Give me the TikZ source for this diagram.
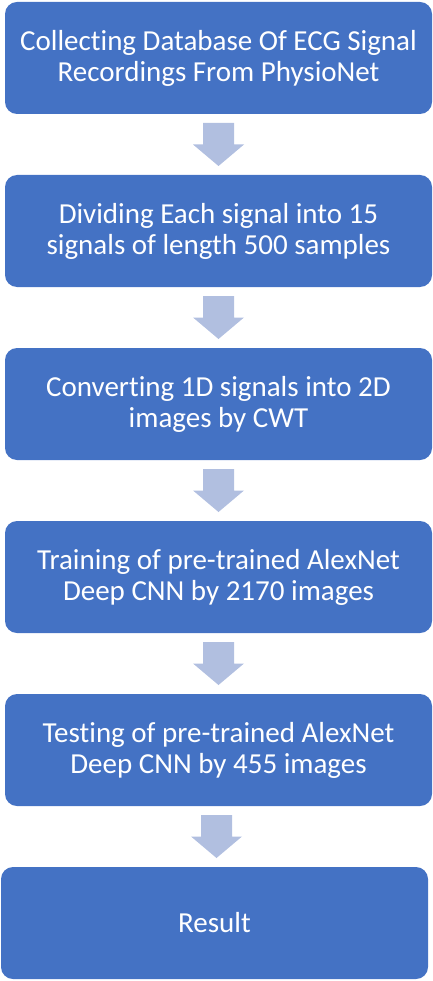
\documentclass[tikz,border=0pt]{standalone}
\usepackage{fontspec}
\setmainfont{Carlito}[Ligatures=NoCommon]
\usetikzlibrary{calc}

\definecolor{boxblue}{HTML}{4472C4}
\definecolor{arrowblue}{HTML}{B1BFE0}

\tikzset{
  stepbox/.style={fill=boxblue, rounded corners=12pt, minimum width=427pt,
    minimum height=112pt, text=white, align=center,
    font=\fontsize{29}{31}\selectfont},
  downarrow/.style={fill=arrowblue}
}

\begin{document}
\begin{tikzpicture}[x=1pt,y=1pt]
    \useasboundingbox (0,0) rectangle (432,-981);

    \node[stepbox] (collect) at (218.5,-58) {Collecting Database Of ECG Signal\\Recordings From PhysioNet};
    \node[stepbox] (divide) at (218.5,-231) {Dividing Each signal into 15\\signals of length 500 samples};
    \node[stepbox] (convert) at (218.5,-404) {Converting 1D signals into 2D\\images by CWT};
    \node[stepbox] (train) at (218.5,-577) {Training of pre-trained AlexNet\\Deep CNN by 2170 images};
    \node[stepbox] (test) at (218.5,-750) {Testing of pre-trained AlexNet\\Deep CNN by 455 images};
    \node[stepbox] (result) at (214.5,-923) {Result};

    % block arrows between the steps
    \foreach \a/\b in {collect/divide, divide/convert, convert/train, train/test, test/result}{
      \coordinate (m) at ($(\a.south)!0.5!(\b.north)$);
      \fill[downarrow] ($(m)+(-15.5,21.5)$) -- ++(31,0) -- ++(0,-21.5) -- ++(10,0)
        -- ($(m)+(0,-21.5)$) -- ($(m)+(-25.5,0)$) -- ++(10,0) -- cycle;
    }
\end{tikzpicture}
\end{document}
